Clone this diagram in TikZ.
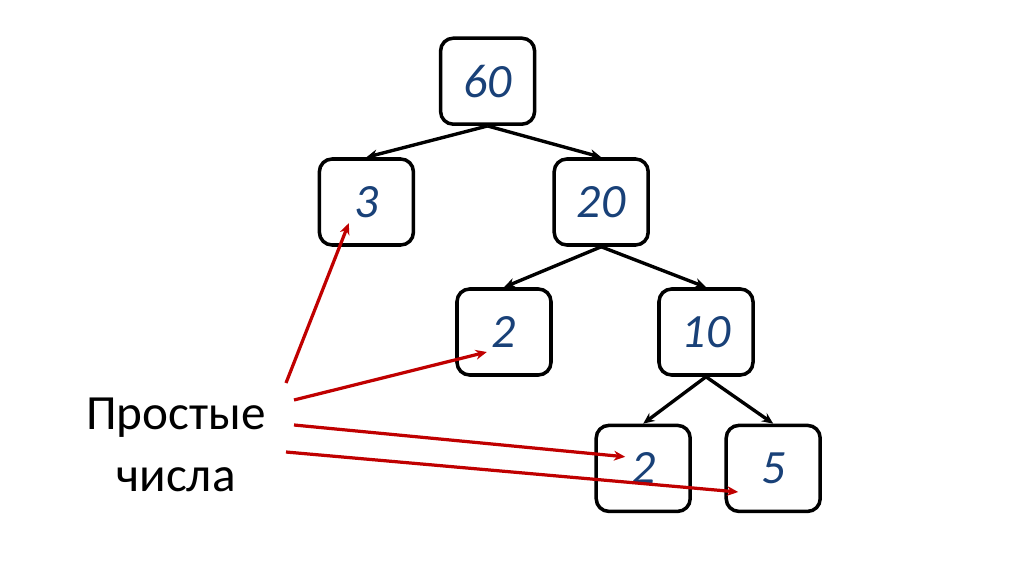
\documentclass[tikz,border=0pt]{standalone}
\usepackage{fontspec}
\setmainfont{Carlito}
\usepackage{tikz}
\usepackage{xcolor}
\usetikzlibrary{arrows.meta,positioning,calc}
\definecolor{numblue}{RGB}{25,65,120}
\definecolor{primered}{RGB}{192,0,0}

\begin{document}
\begin{tikzpicture}[>={Stealth[length=8pt,width=7pt]},
  numbox/.style={draw, line width=2.5pt, rounded corners=9pt, minimum width=2.35cm, minimum height=2.15cm,
    font=\fontsize{34}{40}\selectfont\itshape, text=numblue},
  link/.style={->, line width=2.4pt},
  hint/.style={->, line width=2.3pt, draw=primered}]
  \useasboundingbox[fill=white] (0,0) rectangle (25.6,-14.35);

  % factor tree
  \node[numbox] (n60) at (12.19,-2.03) {60};
  \node[numbox] (n3) at (9.16,-5.05) {3};
  \node[numbox] (n20) at (15.03,-5.05) {20};
  \node[numbox] (n2a) at (12.6,-8.3) {2};
  \node[numbox] (n10) at (17.65,-8.3) {10};
  \node[numbox] (n2b) at (16.08,-11.71) {2};
  \node[numbox] (n5) at (19.33,-11.71) {5};

  \draw[link] (n60.south) -- (n3.north);
  \draw[link] (n60.south) -- (n20.north);
  \draw[link] (n20.south) -- (n2a.north);
  \draw[link] (n20.south) -- (n10.north);
  \draw[link] (n10.south) -- (n2b.north);
  \draw[link] (n10.south) -- (n5.north);

  % label and pointers
  \node[align=center, font=\fontsize{35}{44}\selectfont] (primes) at (4.4,-11.13) {Простые\\числа};
  \coordinate (s1) at (7.15,-9.575);
  \coordinate (s2) at (7.35,-10.0);
  \coordinate (s3) at (7.35,-10.625);
  \coordinate (s4) at (7.15,-11.3);
  \draw[hint] (s1) -- ($(n3.center)+(-0.44,-0.53)$);
  \draw[hint] (s2) -- ($(n2a.center)+(-0.43,-0.5)$);
  \draw[hint] (s3) -- ($(n2b.center)+(-0.45,0.29)$);
  \draw[hint] (s4) -- ($(n5.center)+(-0.875,-0.59)$);
\end{tikzpicture}
\end{document}
